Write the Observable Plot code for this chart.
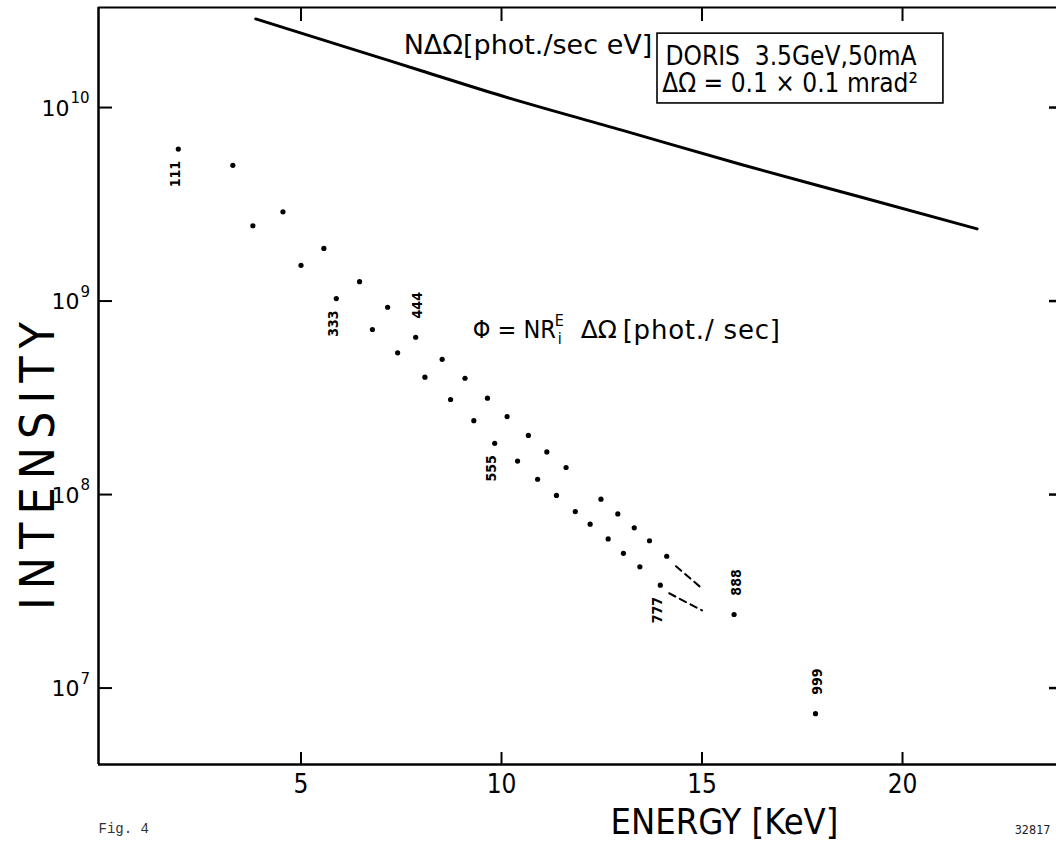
<!DOCTYPE html>
<html>
<head>
<meta charset="utf-8">
<script src="https://cdn.jsdelivr.net/npm/d3@7"></script>
<script src="https://cdn.jsdelivr.net/npm/@observablehq/plot@0.6"></script>
<style>
  html, body { margin: 0; padding: 0; background: #fff; overflow: hidden; }
</style>
</head>
<body>
<div id="chart"></div>
<script>
// ---- data ----
const energy = [1.94, 3.30, 3.80, 4.55, 5.00, 5.57, 5.88, 6.46, 6.78, 7.16, 7.41, 7.86, 8.09, 8.52, 8.73, 9.09, 9.31, 9.65, 9.83, 10.14, 10.40, 10.67, 10.90, 11.13, 11.37, 11.61, 11.84, 12.21, 12.48, 12.66, 12.90, 13.04, 13.31, 13.45, 13.69, 13.96, 14.12, 15.80, 17.83];
const intensity = [6.1e9, 5.03e9, 2.45e9, 2.89e9, 1.53e9, 1.87e9, 1.03e9, 1.26e9, 7.13e8, 9.29e8, 5.4e8, 6.5e8, 4.04e8, 5.0e8, 3.1e8, 3.99e8, 2.41e8, 3.15e8, 1.84e8, 2.53e8, 1.49e8, 2.02e8, 1.2e8, 1.66e8, 9.9e7, 1.38e8, 8.17e7, 7.03e7, 9.46e7, 5.9e7, 7.94e7, 4.97e7, 6.73e7, 4.23e7, 5.77e7, 3.4e7, 4.8e7, 2.4e7, 7.37e6];
const reflection = ["111", "", "", "", "", "", "333", "", "", "", "", "444", "", "", "", "", "", "", "555", "", "", "", "", "", "", "", "", "", "", "", "", "", "", "", "", "777", "", "888", "999"];
const labelsAbove = ["444", "888", "999"];

// N·ΔΩ flux curve
const fluxEnergy = [3.87, 6, 8, 10, 13, 16, 19, 21.86];
const fluxValue = [2.87e10, 2.09e10, 1.55e10, 1.15e10, 7.64e9, 5.06e9, 3.43e9, 2.36e9];

// dashed extrapolations
const dashSeg = ["a", "a", "b", "b"];
const dashEnergy = [14.35, 15.0, 14.18, 15.0];
const dashValue = [4.26e7, 3.27e7, 3.09e7, 2.52e7];

const xTicks = [5, 10, 15, 20];
const yTicks = [1e7, 1e8, 1e9, 1e10];

// annotation anchors (data units)
const fluxNote = {x: 7.56, y: 2.09e10, text: "NΔΩ[phot./sec eV]"};
const boxNote = {x1: 13.89, x2: 21.02, y1: 1.05e10, y2: 2.41e10};
const boxLines = [
  {x: 14.09, y: 1.84e10, text: "DORIS  3.5GeV,50mA"},
  {x: 14.01, y: 1.33e10, text: "ΔΩ = 0.1 × 0.1 mrad²"}
];
const phiNote = {x: 9.28, y: 7.05e8};

// ---- build tables ----
const points = energy.map((e, i) => ({e, v: intensity[i], label: reflection[i]}));
const labeled = points.filter(d => d.label);
const flux = fluxEnergy.map((e, i) => ({e, v: fluxValue[i]}));
const dashes = dashEnergy.map((e, i) => ({e, v: dashValue[i], s: dashSeg[i]}));
const yTickInfo = yTicks.map(v => ({v, exp: String(Math.round(Math.log10(v)))}));
const longExp = yTickInfo.filter(d => d.exp.length > 1);
const shortExp = yTickInfo.filter(d => d.exp.length === 1);

const xDomain = [-0.05, 23.84];
const yDomain = [Math.pow(10, 6.605), Math.pow(10, 10.517)];
const FONT = "'DejaVu Sans Condensed', 'DejaVu Sans', sans-serif";
const WIDE = "'DejaVu Sans', sans-serif";

const chart = Plot.plot({
  width: 1056,
  height: 854,
  marginTop: 7,
  marginBottom: 90,
  marginLeft: 98,
  marginRight: 0,
  style: {background: "#fff", color: "#000", fontFamily: FONT},
  x: {domain: xDomain},
  y: {type: "log", domain: yDomain},
  marks: [
    // frame (top, bottom, left; right side is cut off in the figure)
    Plot.ruleY([yDomain[1]], {stroke: "#000", strokeWidth: 2.2}),
    Plot.ruleY([yDomain[0]], {stroke: "#000", strokeWidth: 2.5}),
    Plot.ruleX([xDomain[0]], {stroke: "#000", strokeWidth: 2.5}),
    // ticks
    Plot.axisX({anchor: "bottom", ticks: xTicks, tickSize: -12, tickFormat: () => "", label: null, strokeWidth: 2}),
    Plot.axisX({anchor: "bottom", ticks: xTicks, tickSize: 0, tickPadding: 10, fontSize: 26, label: null}),
    Plot.axisX({anchor: "top", ticks: xTicks, tickSize: -13, tickFormat: () => "", label: null, strokeWidth: 2}),
    Plot.axisY({anchor: "left", ticks: yTicks, tickSize: -14, tickFormat: () => "", label: null, strokeWidth: 2}),
    Plot.axisY({anchor: "right", ticks: yTicks, tickSize: -8, tickFormat: () => "", label: null, strokeWidth: 2.5}),
    // y tick labels: 10 with exponent
    Plot.text(longExp, {y: "v", frameAnchor: "left", text: () => "10", textAnchor: "end", lineAnchor: "middle", dx: -29, dy: 1, fontSize: 22, fontFamily: WIDE}),
    Plot.text(longExp, {y: "v", frameAnchor: "left", text: "exp", textAnchor: "start", lineAnchor: "middle", dx: -28, dy: -9, fontSize: 15, fontFamily: WIDE}),
    Plot.text(shortExp, {y: "v", frameAnchor: "left", text: () => "10", textAnchor: "end", lineAnchor: "middle", dx: -19, dy: 1, fontSize: 22, fontFamily: WIDE}),
    Plot.text(shortExp, {y: "v", frameAnchor: "left", text: "exp", textAnchor: "start", lineAnchor: "middle", dx: -18, dy: -9, fontSize: 15, fontFamily: WIDE}),
    // flux curve
    Plot.line(flux, {x: "e", y: "v", stroke: "#000", strokeWidth: 3, curve: "monotone-x"}),
    // measured intensities
    Plot.dot(points, {x: "e", y: "v", r: 2.6, fill: "#000", stroke: "none"}),
    Plot.line(dashes, {x: "e", y: "v", z: "s", stroke: "#000", strokeWidth: 2, strokeDasharray: "7,5"}),
    // reflection labels
    Plot.text(labeled.filter(d => !labelsAbove.includes(d.label)), {x: "e", y: "v", text: "label", rotate: -90, dy: 25, dx: -3, fontSize: 14, fontWeight: "bold"}),
    Plot.text(labeled.filter(d => labelsAbove.includes(d.label)), {x: "e", y: "v", text: "label", rotate: -90, dy: -32, dx: 2, fontSize: 14, fontWeight: "bold"}),
    // annotations
    Plot.text([fluxNote], {x: "x", y: "y", text: "text", textAnchor: "start", fontSize: 27, fontFamily: WIDE}),
    Plot.rect([boxNote], {x1: "x1", x2: "x2", y1: "y1", y2: "y2", fill: "none", stroke: "#000", strokeWidth: 1.6}),
    Plot.text(boxLines, {x: "x", y: "y", text: "text", textAnchor: "start", fontSize: 26}),
    Plot.text([phiNote], {x: "x", y: "y", text: () => "Φ = NR", textAnchor: "start", fontSize: 25}),
    Plot.text([phiNote], {x: "x", y: "y", text: () => "E", textAnchor: "start", fontSize: 16, dx: 82, dy: -10}),
    Plot.text([phiNote], {x: "x", y: "y", text: () => "i", textAnchor: "start", fontSize: 16, dx: 85, dy: 8}),
    Plot.text([phiNote], {x: "x", y: "y", text: () => "ΔΩ", textAnchor: "start", fontSize: 25, dx: 108, fontFamily: WIDE}),
    Plot.text([phiNote], {x: "x", y: "y", text: () => "[phot./ sec]", textAnchor: "start", fontSize: 26, dx: 150, fontFamily: WIDE}),
    // axis titles and captions
    Plot.text(["INTENSITY"], {frameAnchor: "left", textAnchor: "middle", lineAnchor: "middle", rotate: -90, dx: -60, dy: 76, fontSize: 48, text: d => d}),
    Plot.text(["ENERGY [KeV]"], {frameAnchor: "bottom", textAnchor: "middle", lineAnchor: "middle", dx: 147, dy: 58, fontSize: 36, text: d => d}),
    Plot.text(["Fig. 4"], {frameAnchor: "bottom-left", textAnchor: "start", lineAnchor: "middle", dy: 64, fontSize: 14, fontFamily: "'Liberation Mono', 'DejaVu Sans Mono', monospace", fill: "#333", text: d => d}),
    Plot.text(["32817"], {frameAnchor: "bottom-right", textAnchor: "end", lineAnchor: "middle", dx: -6, dy: 65, fontSize: 12.5, fill: "#222", text: d => d})
  ]
});

document.getElementById("chart").appendChild(chart);
const spacing = {"INTENSITY": "8px", "[phot./ sec]": "0.8px"};
d3.select(chart).selectAll("text")
  .filter(function () { return this.textContent in spacing; })
  .attr("letter-spacing", function () { return spacing[this.textContent]; });
</script>
</body>
</html>
